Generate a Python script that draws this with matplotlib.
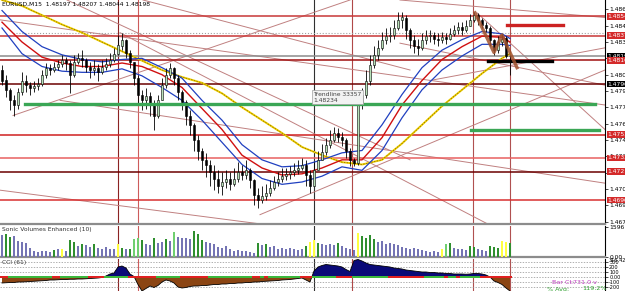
import matplotlib
matplotlib.use("Agg")
import matplotlib.pyplot as plt
import numpy as np

# ---- EURUSD M15 bars ----
open0 = 1.4808
close = [1.4799, 1.4791, 1.4782, 1.4778, 1.4789, 1.4799, 1.4795, 1.4793, 1.4794, 1.4796,
         1.4804, 1.4810, 1.4808, 1.4811, 1.4813, 1.4817, 1.4814, 1.4804, 1.4815, 1.4818,
         1.4817, 1.4811, 1.4808, 1.4810, 1.4806, 1.4811, 1.4813, 1.4817, 1.4822, 1.4829,
         1.4834, 1.4823, 1.4815, 1.4801, 1.4787, 1.4782, 1.4786, 1.4778, 1.4769, 1.4782,
         1.4795, 1.4804, 1.4810, 1.4801, 1.4789, 1.4781, 1.4769, 1.4761, 1.4748, 1.4739,
         1.4731, 1.4727, 1.4721, 1.4715, 1.4709, 1.4712, 1.4715, 1.4710, 1.4715, 1.4721,
         1.4718, 1.4722, 1.4714, 1.4701, 1.4697, 1.4700, 1.4703, 1.4707, 1.4712, 1.4715,
         1.4717, 1.4719, 1.4721, 1.4722, 1.4724, 1.4727, 1.4718, 1.4709, 1.4722, 1.4731,
         1.4738, 1.4744, 1.4748, 1.4754, 1.4751, 1.4748, 1.4739, 1.4731, 1.4728, 1.4778,
         1.4787, 1.4799, 1.4812, 1.4821, 1.4827, 1.4834, 1.4837, 1.4838, 1.4844, 1.4851,
         1.4853, 1.4842, 1.4834, 1.4829, 1.4827, 1.4834, 1.4837, 1.4838, 1.4835, 1.4834,
         1.4836, 1.4835, 1.4839, 1.4842, 1.4845, 1.4842, 1.4846, 1.4851, 1.4855, 1.4851,
         1.4847, 1.4844, 1.4834, 1.4825, 1.4832, 1.4835, 1.4820, 1.4820]
high = [1.4812, 1.4804, 1.4793, 1.4787, 1.4793, 1.4806, 1.4804, 1.4798, 1.4799, 1.4801,
        1.4808, 1.4814, 1.4813, 1.4815, 1.4817, 1.4821, 1.4819, 1.4817, 1.4821, 1.4823,
        1.4825, 1.4818, 1.4815, 1.4817, 1.4813, 1.4817, 1.4818, 1.4823, 1.4827, 1.4838,
        1.4840, 1.4835, 1.4825, 1.4815, 1.4804, 1.4791, 1.4793, 1.4789, 1.4782, 1.4787,
        1.4801, 1.4810, 1.4814, 1.4811, 1.4804, 1.4791, 1.4782, 1.4774, 1.4763, 1.4752,
        1.4741, 1.4737, 1.4731, 1.4727, 1.4722, 1.4721, 1.4722, 1.4721, 1.4724, 1.4729,
        1.4727, 1.4731, 1.4724, 1.4715, 1.4707, 1.4709, 1.4710, 1.4714, 1.4717, 1.4721,
        1.4724, 1.4724, 1.4726, 1.4728, 1.4731, 1.4733, 1.4731, 1.4722, 1.4729, 1.4739,
        1.4745, 1.4750, 1.4757, 1.4759, 1.4758, 1.4755, 1.4750, 1.4741, 1.4733, 1.4787,
        1.4793, 1.4808, 1.4821, 1.4829, 1.4834, 1.4841, 1.4844, 1.4845, 1.4851, 1.4858,
        1.4858, 1.4855, 1.4844, 1.4838, 1.4835, 1.4840, 1.4842, 1.4842, 1.4841, 1.4840,
        1.4841, 1.4840, 1.4844, 1.4847, 1.4849, 1.4849, 1.4851, 1.4856, 1.4858, 1.4857,
        1.4853, 1.4849, 1.4846, 1.4835, 1.4837, 1.4839, 1.4837, 1.4821]
low = [1.4795, 1.4785, 1.4774, 1.4769, 1.4775, 1.4787, 1.4789, 1.4787, 1.4789, 1.4791,
       1.4794, 1.4801, 1.4804, 1.4806, 1.4808, 1.4811, 1.4808, 1.4788, 1.4802, 1.4813,
       1.4811, 1.4806, 1.4801, 1.4804, 1.4799, 1.4805, 1.4808, 1.4811, 1.4815, 1.4821,
       1.4825, 1.4818, 1.4810, 1.4795, 1.4778, 1.4774, 1.4775, 1.4769, 1.4757, 1.4767,
       1.4782, 1.4793, 1.4801, 1.4795, 1.4782, 1.4774, 1.4761, 1.4752, 1.4739, 1.4731,
       1.4722, 1.4716, 1.4709, 1.4705, 1.4703, 1.4701, 1.4707, 1.4705, 1.4709, 1.4712,
       1.4714, 1.4715, 1.4707, 1.4692, 1.4690, 1.4694, 1.4697, 1.4700, 1.4705, 1.4709,
       1.4712, 1.4714, 1.4715, 1.4717, 1.4719, 1.4722, 1.4709, 1.4703, 1.4709, 1.4722,
       1.4731, 1.4735, 1.4741, 1.4746, 1.4746, 1.4743, 1.4733, 1.4726, 1.4726, 1.4727,
       1.4775, 1.4784, 1.4795, 1.4810, 1.4817, 1.4825, 1.4830, 1.4832, 1.4835, 1.4842,
       1.4844, 1.4835, 1.4827, 1.4823, 1.4821, 1.4825, 1.4830, 1.4832, 1.4830, 1.4829,
       1.4831, 1.4830, 1.4834, 1.4837, 1.4839, 1.4838, 1.4841, 1.4846, 1.4849, 1.4847,
       1.4844, 1.4841, 1.4829, 1.4821, 1.4823, 1.4829, 1.4818, 1.4804]

# moving averages, sampled every 5 bars (last point = last bar)
ma_bars = [0, 5, 10, 15, 20, 25, 30, 35, 40, 45, 50, 55, 60, 65, 70, 75, 80, 85, 90,
           95, 100, 105, 110, 115, 120, 125, 127]
ma_upper = [1.4859, 1.4841, 1.4828, 1.4821, 1.4817, 1.4815, 1.4817, 1.4818, 1.4810, 1.4801,
            1.4782, 1.4765, 1.4744, 1.4731, 1.4725, 1.4726, 1.4731, 1.4737, 1.4739, 1.4761,
            1.4787, 1.4810, 1.4825, 1.4834, 1.4841, 1.4839, 1.4835]
ma_mid = [1.4849, 1.4832, 1.4819, 1.4814, 1.4811, 1.4811, 1.4814, 1.4811, 1.4804, 1.4793,
          1.4775, 1.4757, 1.4735, 1.4724, 1.4718, 1.4719, 1.4724, 1.4731, 1.4731, 1.4750,
          1.4778, 1.4799, 1.4817, 1.4828, 1.4837, 1.4836, 1.4832]
ma_lower = [1.4844, 1.4822, 1.4811, 1.4807, 1.4806, 1.4806, 1.4809, 1.4803, 1.4793, 1.4782,
            1.4765, 1.4746, 1.4727, 1.4715, 1.4710, 1.4712, 1.4717, 1.4725, 1.4722, 1.4739,
            1.4767, 1.4791, 1.4808, 1.4820, 1.4830, 1.4830, 1.4829]
ma_slow = [1.4868, 1.4863, 1.4855, 1.4847, 1.4840, 1.4832, 1.4824, 1.4816, 1.4808, 1.4802,
           1.4797, 1.4788, 1.4776, 1.4765, 1.4754, 1.4742, 1.4735, 1.4729, 1.4727, 1.4731,
           1.4745, 1.4761, 1.4777, 1.4791, 1.4805, 1.4818, 1.4822]

# horizontal price levels drawn on the chart
levels = [1.48540, 1.48375, 1.48198, 1.48163, 1.47960, 1.47527, 1.47326, 1.47210, 1.46964]
level_colors = ['#c83737', '#c83737', '#8c8c8c', '#a01010', '#6b0000',
                '#d02020', '#e86060', '#6b0000', '#d83030']
level_box = ['#d42a2a', '#d42a2a', 'black', '#d42a2a', 'black',
             '#d42a2a', '#d42a2a', '#d42a2a', '#d42a2a']

# trend lines: (bar, price) -> (bar, price)
trendlines = [((16.25, 1.4868), (102.0, 1.4731)),
              ((-0.5, 1.4851), (150.75, 1.4778)),
              ((2.75, 1.4769), (87.0, 1.4868)),
              ((-0.5, 1.4705), (67.0, 1.4675)),
              ((14.5, 1.4782), (150.75, 1.4711)),
              ((64.5, 1.4684), (150.75, 1.4808)),
              ((29.5, 1.4840), (122.0, 1.4675)),
              ((99.5, 1.4868), (150.75, 1.4853)),
              ((118.75, 1.4857), (150.75, 1.4757)),
              ((99.5, 1.4831), (150.75, 1.4795)),
              ((35.25, 1.4868), (102.0, 1.4808)),
              ((107.0, 1.4799), (150.75, 1.4827))]

vlines = [29, 34, 78, 87.5, 117.75, 127]
vline_colors = ['#8b2323', '#cd5c5c', '#303030', '#b04848', '#b05050', '#b05050']

zigzag_bars = [118.25, 123, 125, 128.75]
zigzag_price = [1.4857, 1.4823, 1.4838, 1.4810]

# Sonic volumes
volume = [1150, 1200, 1050, 1100, 850, 800, 750, 500, 300, 280,
          320, 300, 250, 350, 400, 450, 300, 900, 800, 600,
          700, 650, 550, 700, 500, 450, 550, 400, 450, 700,
          500, 450, 400, 950, 1000, 900, 700, 650, 1000, 750,
          800, 950, 850, 1350, 1050, 1000, 1000, 950, 1400, 1250,
          900, 800, 750, 700, 550, 500, 600, 450, 300, 350,
          300, 320, 250, 200, 750, 650, 700, 550, 600, 450,
          500, 450, 500, 400, 350, 450, 600, 800, 900, 750,
          700, 650, 700, 650, 750, 600, 500, 400, 350, 1300,
          1100, 1000, 1150, 950, 800, 850, 700, 750, 700, 650,
          550, 500, 450, 500, 400, 350, 300, 250, 300, 280,
          400, 700, 750, 500, 450, 400, 350, 600, 550, 400,
          350, 300, 600, 550, 500, 850, 800, 750]
vol_kind = ("pggppppppp" "pppgpypggp" "gppgpppppy" "gpgllgppgp" "pgplppppgg"
            "gppppppppp" "ppppgpgppp" "ppppppgyyg" "ppppgppppy" "ggggpppppp"
            "pppppppppp" "ylgppppggp" "ppgggyyg")

# CCI (61)
cci = [-120, -115, -110, -110, -100, -100, -95, -90, -85, -80,
       -75, -70, -60, -60, -55, -50, -50, -45, -45, -40,
       -40, -35, -30, -25, -20, -10, 20, 60, 80, 200,
       220, 180, 60, 10, -150, -280, -230, -180, -210, -170,
       -100, -60, -80, -120, -200, -220, -210, -190, -180, -180,
       -170, -170, -160, -150, -150, -140, -140, -130, -130, -120,
       -120, -110, -110, -100, -100, -90, -85, -80, -75, -70,
       -60, -55, -50, -40, -30, -20, -60, -100, 120, 200,
       230, 250, 240, 230, 220, 200, 150, 110, 330, 350,
       320, 280, 250, 240, 230, 220, 210, 200, 180, 170,
       160, 140, 130, 120, 110, 100, 100, 90, 90, 80,
       80, 70, 70, 60, 60, 60, 55, 60, 70, 70,
       60, 40, 0, -80, -110, -150, -220, -280]
cci_band = ("rrgggggggg" "gggrrggggg" "ggrrrrgggg" "ggrrrrrrrg" "gggggrrrrr"
            "rrgggggggg" "gggrrgrggg" "gggggrrrgg" "ggggrrrrgg" "gggggggrrr"
            "rrrrrrgggg" "grggrggggg" "rrrrrrrr")

W, H = 625, 291
fig = plt.figure(figsize=(W / 100, H / 100), dpi=100)
fig.patch.set_facecolor('white')
right = 605 / W
ax = fig.add_axes([0, 1 - 224 / H, right, 224 / H])
axv = fig.add_axes([0, 1 - 257 / H, right, 31 / H])
axc = fig.add_axes([0, 0, right, 32 / H])

n = len(close)
x = np.arange(n)
opens = np.array([open0] + close[:-1])
close = np.array(close)

xlim = (-0.5, 150.75)
for a in (ax, axv, axc):
    a.set_xlim(*xlim)
    a.set_xticks([])
    for s in ('top', 'left'):
        a.spines[s].set_visible(False)
    a.spines['right'].set_color('black')
    a.spines['right'].set_linewidth(0.8)
    a.spines['bottom'].set_color('#8c8c8c')
    a.spines['bottom'].set_linewidth(1.6)
    a.yaxis.tick_right()
    a.tick_params(axis='y', labelsize=4.3, length=2, width=0.5, pad=1, colors='black')
    for b, c in zip(vlines, vline_colors):
        a.axvline(b, color=c, lw=0.8, zorder=1)

# ---- main price panel ----
ax.set_ylim(1.4676, 1.4868)
ticks = [1.48600 - 0.0014 * k for k in range(14)]
ax.set_yticks(ticks)
ax.set_yticklabels([f"{t:.5f}" for t in ticks])

for (b0, p0), (b1, p1) in trendlines:
    ax.plot([b0, b1], [p0, p1], color='#c08080', lw=0.7, zorder=1)
ax.plot([2.75, 150.75], [1.4840, 1.4840], color='#a0a0a0', lw=0.8, ls=':', zorder=1)
for lv, c in zip(levels, level_colors):
    ax.axhline(lv, color=c, lw=1.1, zorder=2)

ax.plot(ma_bars, ma_slow, color='#f0d000', lw=1.4, zorder=3)
ax.plot(ma_bars, ma_slow, color='#806000', lw=0.5, ls=(0, (2, 2)), zorder=3)
ax.plot(ma_bars, ma_upper, color='#2040c0', lw=0.9, zorder=3)
ax.plot(ma_bars, ma_lower, color='#2040c0', lw=0.9, zorder=3)
ax.plot(ma_bars, ma_mid, color='#d01010', lw=1.0, zorder=3)

# candles
ax.vlines(x, low, high, color='black', lw=0.6, zorder=4)
bull = close >= opens
body_lo = np.minimum(opens, close)
body_h = np.maximum(np.abs(close - opens), 0.00003)
ax.bar(x[bull], body_h[bull], bottom=body_lo[bull], width=0.55,
       color='#b8e0b8', edgecolor='black', linewidth=0.4, zorder=5)
ax.bar(x[~bull], body_h[~bull], bottom=body_lo[~bull], width=0.55,
       color='black', edgecolor='black', linewidth=0.4, zorder=5)

# drawn objects
ax.plot([5.75, 148.25], [1.47789, 1.47789], color='#3aa655', lw=2.4, zorder=6)
ax.plot([117.25, 149.25], [1.47566, 1.47566], color='#3aa655', lw=2.4, zorder=6)
ax.plot([126.25, 140.25], [1.48466, 1.48466], color='#cc2222', lw=2.4, zorder=6)
ax.plot([121.5, 137.5], [1.48157, 1.48157], color='black', lw=2.4, zorder=6)
ax.plot(zigzag_bars, zigzag_price, color='#a0522d', lw=2.4, alpha=0.85, zorder=6)

for lv, bc in zip(levels, level_box):
    ax.text(1.004, lv, f"{lv:.5f}", transform=ax.get_yaxis_transform(), fontsize=4.3,
            color='white', va='center', ha='left', clip_on=False, zorder=10,
            bbox=dict(boxstyle='square,pad=0.12', fc=bc, ec='none'))

ax.text(77.75, 1.47892, "Trendline 33357\n1.48234", fontsize=4.3, color='#404040',
        va='top', ha='left', linespacing=1.15, zorder=7,
        bbox=dict(boxstyle='square,pad=0.25', fc='#f2f2f2', ec='#a0a0a0', lw=0.5))
ax.text(0.004, 0.99, "EURUSD,M15  1.48197 1.48207 1.48044 1.48198", transform=ax.transAxes,
        fontsize=4.3, va='top', ha='left', color='black', zorder=8)

# ---- volume panel ----
vol_colors = {'p': '#7474b4', 'g': '#2f8f2f', 'l': '#6fcf6f', 'y': '#ffff40'}
axv.set_ylim(0, 1650)
axv.bar(x, volume, width=0.6, color=[vol_colors[k] for k in vol_kind], linewidth=0, zorder=3)
axv.set_yticks([1596, 0])
axv.set_yticklabels(["1596", "0.00"])
axv.text(0.004, 0.97, "Sonic Volumes Enhanced (10)", transform=axv.transAxes,
         fontsize=4.3, va='top', ha='left', color='#303030')

# ---- CCI panel ----
cci = np.array(cci)
axc.set_ylim(-280, 360)
for lv in (300, 200, 100, 0, -100, -200):
    axc.axhline(lv, color='#909090', lw=0.5, ls=(0, (2, 2)), zorder=1)
axc.fill_between(x, cci, 0, where=cci >= 0, interpolate=True, color='#0a0a78', lw=0, zorder=2)
axc.fill_between(x, cci, 0, where=cci <= 0, interpolate=True, color='#8b4513', lw=0, zorder=2)
axc.plot(x, cci, color='black', lw=0.6, zorder=3)
band_col = {'r': '#e02020', 'g': '#3cb83c'}
axc.bar(x, 26, bottom=-13, width=1.0, color=[band_col[k] for k in cci_band], lw=0, zorder=4)
axc.set_yticks([300, 200, 100, 0, -100, -200])
axc.set_yticklabels(["300", "200", "100", "0.00", "-100", "-200"])
axc.tick_params(axis='y', labelsize=3.6)
axc.spines['bottom'].set_visible(False)
axc.text(0.004, 0.97, "CCI (61)", transform=axc.transAxes, fontsize=4.3,
         va='top', ha='left', color='#303030')
fig.text(609 / W, 1 - 261 / H, "316.4291", fontsize=3.6, va='center', ha='left')
fig.text(552 / W, 1 - 282 / H, "Bar Ct:", fontsize=4.6, color='#c040c0', va='center')
fig.text(573 / W, 1 - 282 / H, "731.0 v", fontsize=4.6, color='#c040c0', va='center')
fig.text(547 / W, 1 - 289 / H, "% Avg:", fontsize=4.6, color='#30a030', va='center')
fig.text(582 / W, 1 - 289 / H, "119.2%", fontsize=4.6, color='#30a030', va='center')

fig.savefig("out.png", dpi=100, facecolor='white')
